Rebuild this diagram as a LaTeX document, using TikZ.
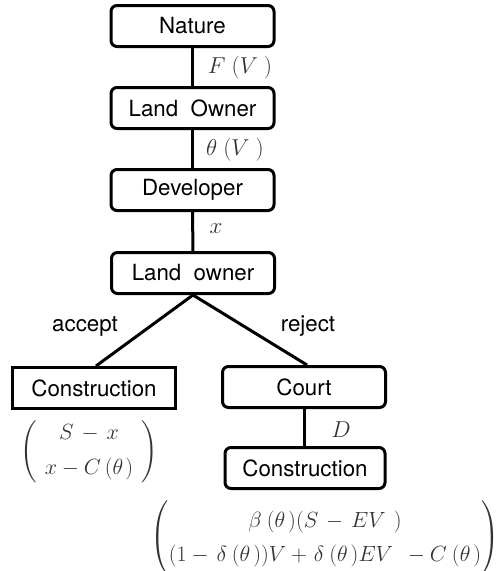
\RequirePackage{fix-cm}
\documentclass[tikz,border=0pt]{standalone}
\usepackage{amsmath}
\usepackage{fontspec}
\setmainfont{TeX Gyre Heros}
\newcommand{\hs}[1]{\hspace{#1pt}}
\begin{document}
\begin{tikzpicture}[x=1pt,y=-1pt,
  box/.style={draw,line width=3pt,rounded corners=6pt,minimum width=163pt,minimum height=41pt,inner sep=0pt,font=\fontsize{22.3}{25}\selectfont},
  sqbox/.style={box,rounded corners=0pt},
  edge/.style={line width=3pt},
  lab/.style={font=\fontsize{22.3}{25}\selectfont,inner sep=0pt},
  mlab/.style={inner sep=0pt,text=black!80,font=\fontsize{23}{26}\selectfont}]
\useasboundingbox (0,0) rectangle (498,571);
\node[box] (nature) at (192.5,26) {Nature};
\node[box] (owner1) at (192.5,108) {Land\ \ Owner};
\node[box] (dev) at (192.5,190) {Developer};
\node[box] (owner2) at (193,273) {Land\ \ owner};
\node[sqbox] (cons1) at (94,388) {Construction};
\node[box] (court) at (304,387) {Court};
\node[box,minimum width=160pt] (cons2) at (305,468) {Construction};
\draw[edge] (nature) -- (owner1);
\draw[edge] (owner1) -- (dev);
\draw[edge] (dev) -- (owner2);
\draw[edge] (owner2.south) -- (cons1.north -| 96,0);
\draw[edge] (owner2.south) -- (court.north -| 307,0);
\draw[edge] (court) -- (cons2.north -| court.south);
\node[mlab] (lF) at (240,68) {$F\hs{6}(V\hs{6})$};
\node[mlab] (lT) at (235,150) {$\theta\hs{6}(V\hs{6})$};
\node[mlab] (lx) at (216,229) {$x$};
\node[lab] (lacc) at (85,326) {accept};
\node[lab] (lrej) at (308,326) {reject};
\node[mlab] (lD) at (341,430) {$D$};
\node[inner sep=0pt,text=black!80,font=\fontsize{22}{26}\selectfont] (v1) at (89,452) {$\begin{pmatrix}\hs{8} S\hs{3}-\hs{3}x\hs{8} \\[9pt] \hs{8}x-C\hs{4}(\theta\hs{2})\hs{8}\end{pmatrix}$};
\node[inner sep=0pt,text=black!80,font=\fontsize{22}{26}\selectfont] (v2) at (325,538) {$\renewcommand{\arraystretch}{1.3}\begin{pmatrix}\beta\hs{5}(\theta\hs{3})(S\hs{3}-\hs{3}EV\hs{8}) \\ (1-\hs{3}\delta\hs{5}(\theta\hs{3}))V+\hs{2}\delta\hs{5}(\theta\hs{3})EV\hs{10}-C\hs{5}(\theta\hs{3})\end{pmatrix}$};
\end{tikzpicture}
\end{document}
